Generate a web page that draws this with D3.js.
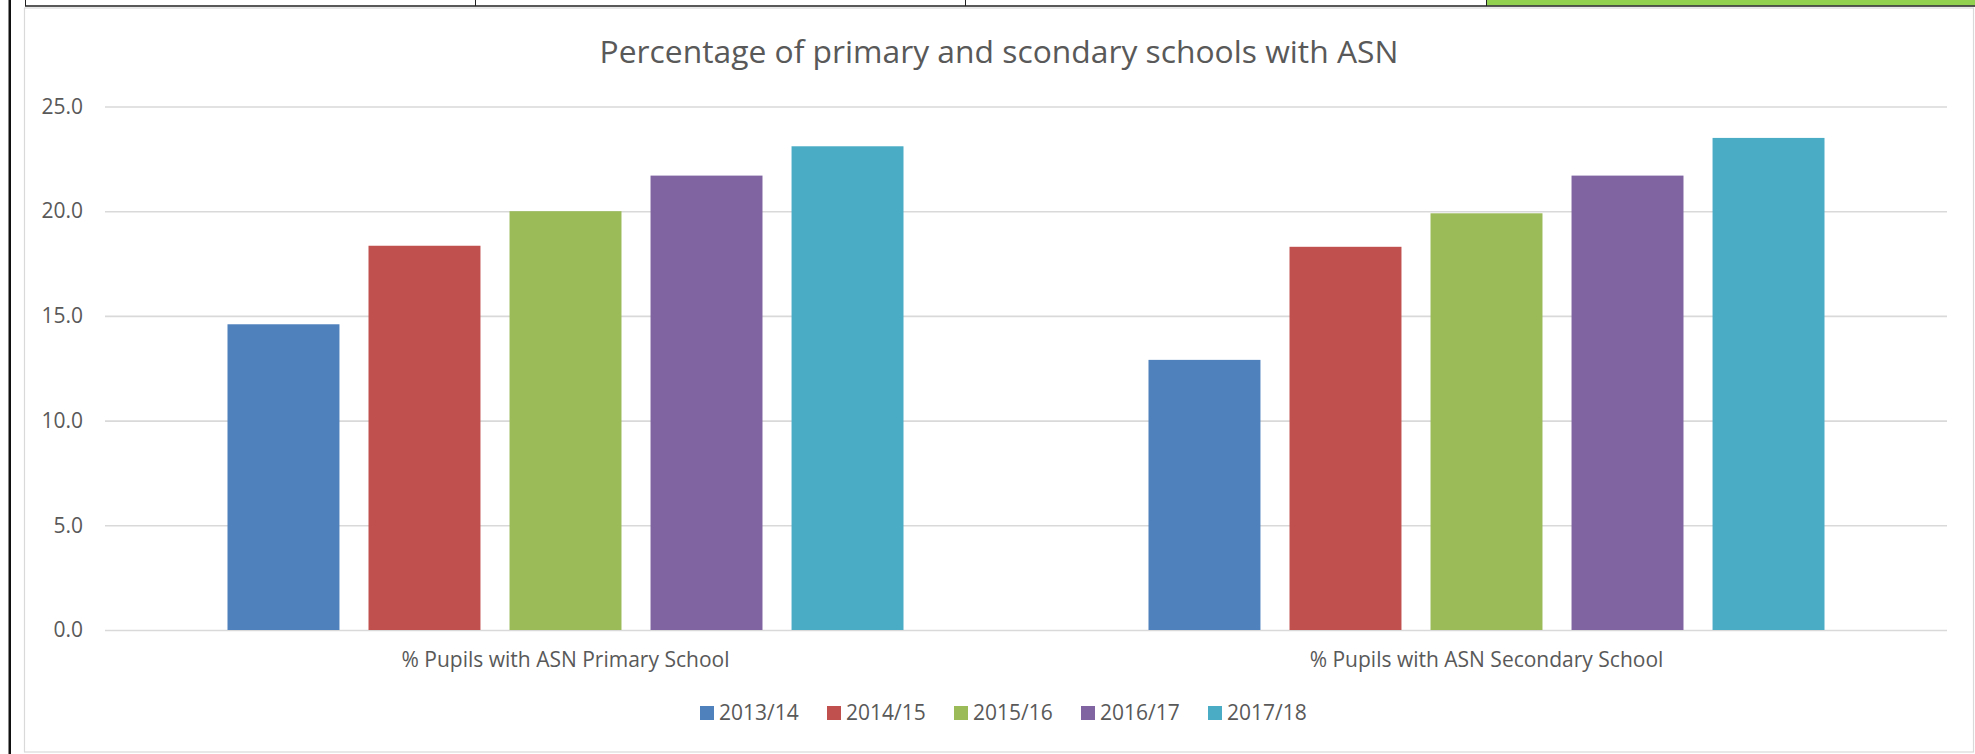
<!DOCTYPE html>
<html>
<head>
<meta charset="utf-8">
<script src="https://cdn.jsdelivr.net/npm/d3@7"></script>
<style>
  html, body { margin: 0; padding: 0; background: #ffffff; }
  svg { display: block; }
  text { font-family: "Open Sans", "Noto Sans", sans-serif; fill: #595959; }
</style>
</head>
<body>
<svg id="chart" width="1975" height="754"></svg>
<script>
const title = "Percentage of primary and scondary schools with ASN";
const categories = ["% Pupils with ASN Primary School", "% Pupils with ASN Secondary School"];
const seriesNames = ["2013/14", "2014/15", "2015/16", "2016/17", "2017/18"];
const primaryValues = [14.6, 18.35, 20.0, 21.7, 23.1];
const secondaryValues = [12.9, 18.3, 19.9, 21.7, 23.5];
const yTicks = [0, 5, 10, 15, 20, 25];
const seriesColors = ["#4F81BD", "#C0504D", "#9BBB59", "#8064A2", "#4BACC6"];

const valuesByCategory = [primaryValues, secondaryValues];
const rows = categories.map((c, i) => ({
  category: c,
  values: seriesNames.map((s, j) => ({ series: s, value: valuesByCategory[i][j] }))
}));

const svg = d3.select("#chart");

// --- surrounding page frame (spreadsheet table edge) ---
svg.append("rect").attr("x", 0).attr("y", 0).attr("width", 1975).attr("height", 754).attr("fill", "#ffffff");
svg.append("rect").attr("x", 1486).attr("y", 0).attr("width", 489).attr("height", 5.5).attr("fill", "#92D050");
svg.append("line").attr("x1", 25).attr("x2", 1975).attr("y1", 6).attr("y2", 6)
  .attr("stroke", "#222").attr("stroke-width", 1.6);
[25, 475, 965, 1486].forEach(x => {
  svg.append("line").attr("x1", x + 0.5).attr("x2", x + 0.5).attr("y1", 0).attr("y2", 6)
    .attr("stroke", "#222").attr("stroke-width", 1);
});
svg.append("rect").attr("x", 8.5).attr("y", 0).attr("width", 2.5).attr("height", 754).attr("fill", "#111");

// --- chart area ---
svg.append("rect").attr("x", 24.5).attr("y", 8).attr("width", 1949).attr("height", 744)
  .attr("fill", "#ffffff").attr("stroke", "#D9D9D9").attr("stroke-width", 1.2);

const plotLeft = 105, plotRight = 1947;
const y = d3.scaleLinear().domain([0, 25]).range([630, 106.5]);
const x0 = d3.scaleBand().domain(categories).range([plotLeft, plotRight])
  .paddingInner(0.266).paddingOuter(0.133);
const x1 = d3.scaleBand().domain(seriesNames).range([0, x0.bandwidth()])
  .paddingInner(0.206).paddingOuter(0);
const color = d3.scaleOrdinal().domain(seriesNames).range(seriesColors);

// gridlines + y labels
const yAxis = d3.axisLeft(y).tickValues(yTicks).tickFormat(d3.format(".1f"))
  .tickSize(-(plotRight - plotLeft)).tickPadding(22);
const gy = svg.append("g").attr("transform", `translate(${plotLeft},0)`).call(yAxis);
gy.select(".domain").remove();
gy.selectAll(".tick line").attr("stroke", "#D9D9D9").attr("stroke-width", 1.6);
gy.selectAll(".tick text").attr("font-size", 21).attr("fill", "#595959")
  .style("font-family", '"Open Sans", sans-serif');

// bars
const groups = svg.append("g").selectAll("g").data(rows).join("g")
  .attr("transform", d => `translate(${x0(d.category)},0)`);
groups.selectAll("rect").data(d => d.values).join("rect")
  .attr("x", d => x1(d.series))
  .attr("width", x1.bandwidth())
  .attr("y", d => y(d.value))
  .attr("height", d => y(0) - y(d.value))
  .attr("fill", d => color(d.series));

// category axis
const xAxis = d3.axisBottom(x0).tickSize(0).tickPadding(21.7);
const gx = svg.append("g").attr("transform", `translate(0,${y(0)})`).call(xAxis);
gx.select(".domain").remove();
gx.selectAll(".tick text").attr("font-size", 21).attr("fill", "#595959")
  .style("font-family", '"Open Sans", sans-serif');

// title
svg.append("text").attr("x", 999).attr("y", 62.7).attr("text-anchor", "middle")
  .attr("font-size", 31.8).text(title);

// legend
const lx = d3.scaleBand().domain(seriesNames).range([700, 1335]);
const leg = svg.append("g").selectAll("g").data(seriesNames).join("g")
  .attr("transform", d => `translate(${lx(d)},0)`);
leg.append("rect").attr("x", 0).attr("y", 706).attr("width", 14).attr("height", 14)
  .attr("fill", d => color(d));
leg.append("text").attr("x", 19).attr("y", 720).attr("font-size", 21).text(d => d);
</script>
</body>
</html>
